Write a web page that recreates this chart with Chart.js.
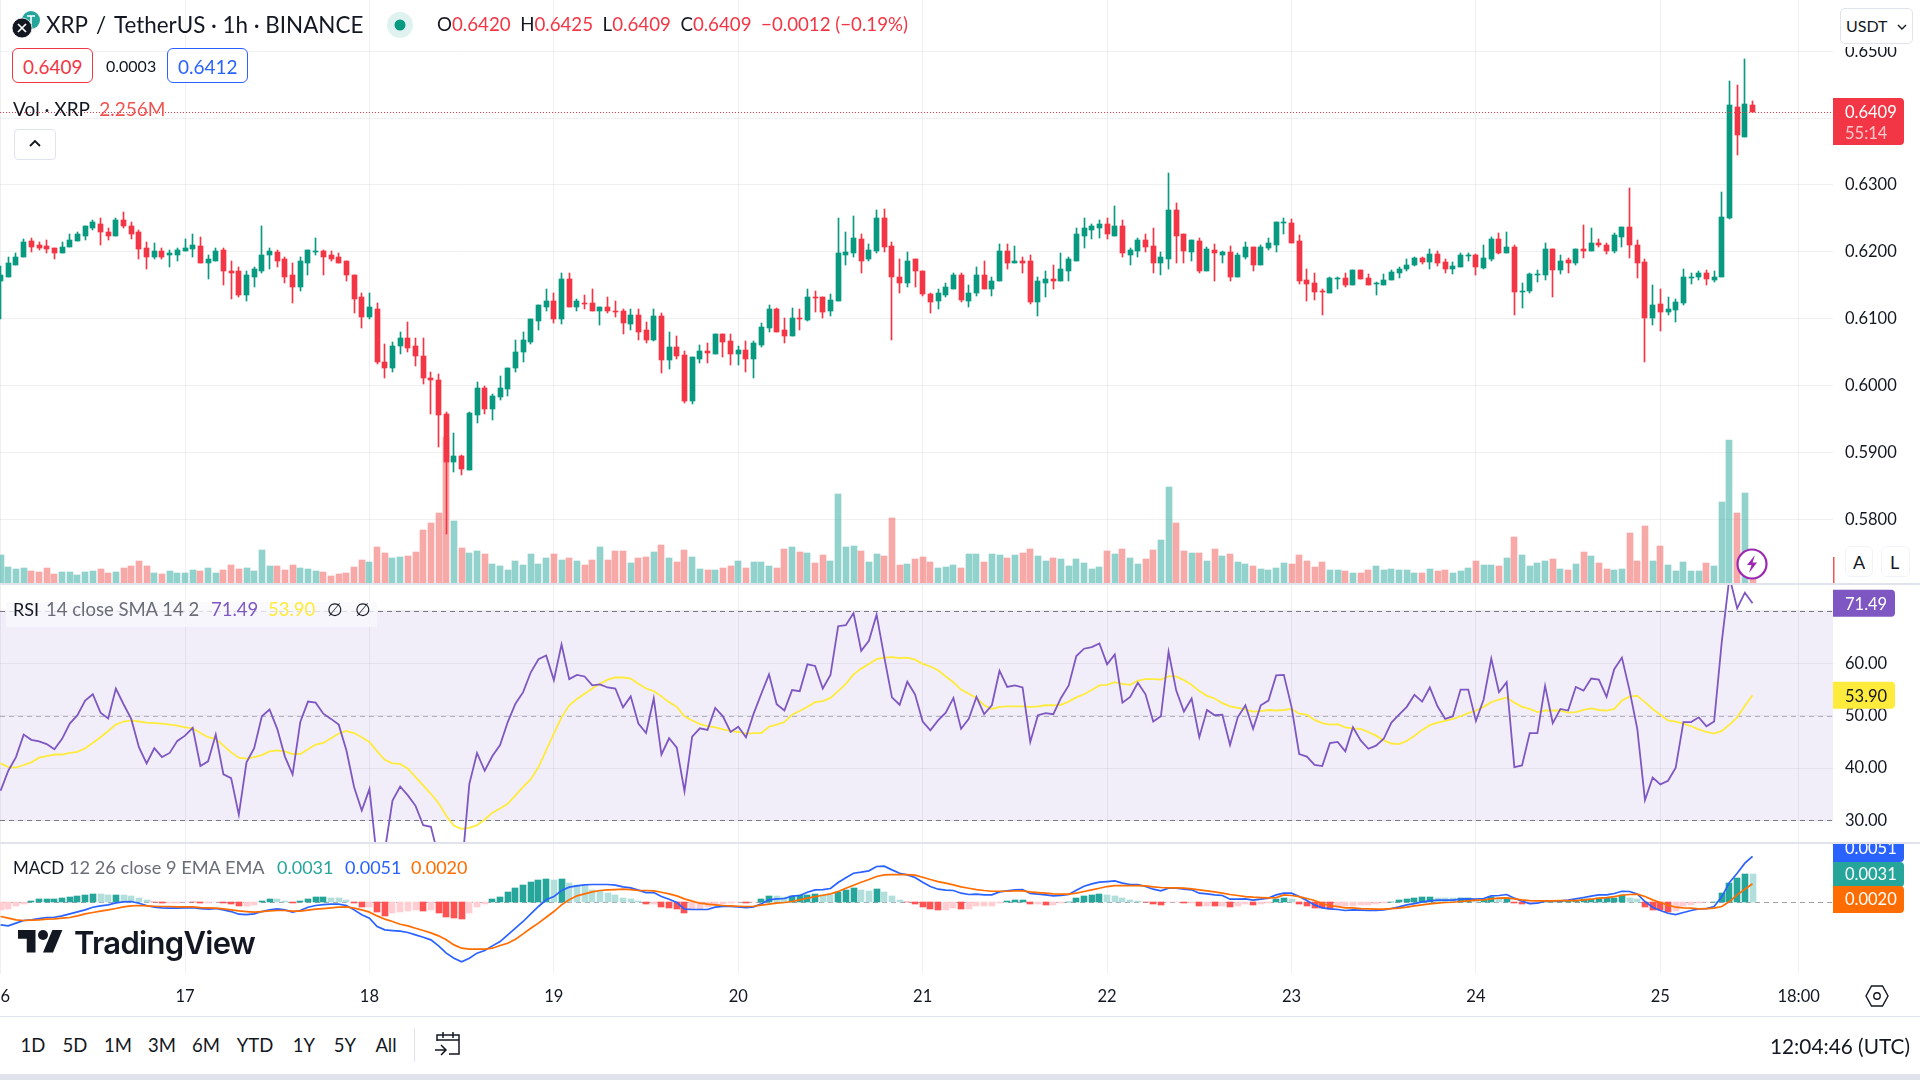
<!DOCTYPE html>
<html lang="en">
<head>
<meta charset="utf-8">
<title>XRP / TetherUS 1h</title>
<script src="https://cdn.jsdelivr.net/npm/chart.js@4"></script>
<style>
  html, body { margin: 0; padding: 0; background: #fff; }
  #stage { position: relative; width: 1920px; height: 1080px; overflow: hidden; background: #fff;
           font-family: Lato, "Open Sans", sans-serif; color: #131722; }
  #stage canvas { position: absolute; left: 0; display: block; }
  .t { position: absolute; white-space: pre; transform: translateY(-50%); line-height: 1; }
  .box { position: absolute; box-sizing: border-box; background: #fff; }
  svg.ico { position: absolute; overflow: visible; }
</style>
</head>
<body>
<div id="stage">
  <canvas id="mainPane" width="1920" height="583" style="top:0"></canvas>
  <canvas id="rsiPane" width="1920" height="257" style="top:585px"></canvas>
  <canvas id="macdPane" width="1920" height="174" style="top:842px"></canvas>
</div>
<script>
// Hourly candles in units of 0.0001 USDT, starting at the 16th 00:00 UTC.
const opens = [6156,6163,6181,6192,6217,6211,6209,6206,6199,6208,
6217,6224,6236,6242,6230,6224,6248,6239,6229,6206,
6192,6202,6196,6196,6202,6205,6209,6184,6187,6203,
6172,6171,6135,6163,6172,6196,6200,6189,6165,6147,
6184,6200,6202,6195,6192,6186,6165,6133,6102,6115,
6035,6026,6059,6072,6059,6045,6012,6009,5957,5886,
5895,5874,5956,5996,5965,5983,5995,6026,6050,6065,
6096,6118,6126,6099,6159,6117,6124,6123,6111,6117,
6112,6112,6092,6105,
6083,6068,6104,6038,6058,6046,5977,6040,6052,6047,
6077,6067,6047,6053,6040,6061,6086,6114,6083,6074,
6101,6098,6132,6132,6111,6126,6196,6198,6220,6189,
6202,6250,6209,6163,6153,6189,6172,6137,6126,6135,
6144,6165,6126,6138,6165,6145,6156,6202,6183,6186,
6186,6125,6154,6159,6156,6172,6187,6224,6233,6236,
6241,6224,6238,6196,6202,6218,6209,6184,6190,6262,
6226,6200,6217,6172,6203,6196,6200,6163,6193,6208,
6180,6206,6211,6243,6243,6216,6158,6153,6141,6139,
6160,6161,6150,6173,6161,6152,6151,6158,6168,6174,
6180,6191,6185,6197,6185,6175,6177,6194,6195,6176,
6189,6220,6198,6208,6141,6141,6165,6165,6205,6173,
6188,6183,6205,6201,6214,6211,6201,6223,6237,6210,
6185,6101,6122,6110,6113,6123,6162,6162,6168,6158,
6162,6250,6417,6372,6420];
const highs = [6179,6192,6198,6220,6221,6215,6218,6206,6215,6227,
6229,6238,6248,6250,6235,6250,6259,6244,6232,6215,
6214,6206,6203,6206,6220,6226,6223,6195,6206,6206,
6187,6178,6171,6177,6238,6206,6203,6192,6183,6192,
6203,6221,6203,6202,6198,6187,6166,6139,6138,6123,
6062,6065,6081,6095,6072,6071,6021,6017,5960,5929,
5897,5960,6006,5999,5987,6015,6027,6069,6080,6100,
6120,6145,6139,6168,6168,6129,6135,6145,6118,6132,
6126,6114,6114,6114,
6095,6114,6108,6080,6075,6052,6043,6061,6064,6078,
6078,6077,6059,6067,6067,6093,6120,6116,6101,6116,
6114,6145,6142,6132,6137,6251,6229,6253,6226,6212,
6262,6264,6215,6189,6200,6189,6172,6139,6145,6154,
6168,6169,6150,6178,6187,6163,6212,6212,6209,6192,
6195,6162,6171,6181,6198,6192,6236,6250,6242,6247,
6251,6269,6247,6206,6221,6227,6236,6200,6318,6273,
6226,6218,6221,6208,6212,6202,6209,6199,6215,6208,
6211,6221,6244,6250,6249,6225,6174,6169,6144,6163,
6163,6169,6173,6173,6167,6155,6167,6173,6178,6190,
6193,6193,6205,6202,6190,6185,6199,6199,6197,6211,
6222,6228,6229,6210,6153,6169,6173,6213,6205,6195,
6191,6205,6240,6235,6220,6214,6228,6237,6295,6218,
6189,6150,6145,6133,6129,6175,6169,6171,6173,6171,
6290,6455,6450,6489,6425];
const lows = [6100,6162,6181,6192,6200,6203,6198,6190,6199,6208,
6217,6218,6233,6211,6218,6224,6235,6220,6189,6175,
6189,6189,6177,6187,6202,6193,6184,6160,6187,6151,
6130,6133,6127,6148,6168,6175,6178,6153,6124,6142,
6165,6195,6165,6186,6183,6156,6109,6086,6100,6033,
6011,6021,6048,6051,6030,6002,5957,5908,5778,5871,
5866,5874,5944,5957,5948,5978,5984,6020,6035,6063,
6084,6112,6093,6092,6117,6111,6115,6112,6090,6108,
6102,6077,6083,6069,
6064,6067,6019,6025,6040,5974,5973,6034,6034,6047,
6043,6031,6031,6020,6012,6058,6080,6081,6064,6074,
6083,6096,6110,6101,6104,6126,6180,6192,6169,6186,
6198,6200,6068,6139,6147,6148,6134,6108,6114,6132,
6144,6125,6117,6134,6145,6134,6156,6175,6183,6168,
6122,6104,6132,6145,6156,6157,6187,6206,6220,6221,
6220,6224,6193,6181,6192,6200,6169,6165,6174,6183,
6184,6186,6168,6171,6156,6184,6156,6163,6189,6172,
6180,6203,6200,6226,6214,6152,6127,6128,6106,6139,
6145,6148,6150,6159,6150,6135,6150,6158,6161,6172,
6179,6182,6174,6179,6168,6167,6177,6186,6165,6174,
6186,6197,6198,6106,6116,6139,6155,6158,6133,6167,
6169,6180,6191,6201,6208,6197,6198,6208,6191,6161,
6036,6090,6082,6106,6095,6121,6152,6158,6150,6155,
6162,6249,6345,6372,6409];
const closes = [6165,6183,6193,6215,6208,6206,6205,6199,6208,6218,
6226,6238,6244,6229,6224,6248,6238,6227,6205,6192,
6202,6193,6198,6203,6206,6211,6184,6189,6202,6172,
6169,6135,6165,6174,6196,6202,6187,6163,6147,6186,
6203,6202,6193,6189,6184,6165,6130,6102,6117,6035,
6026,6060,6072,6057,6044,6011,6008,5956,5886,5895,
5875,5959,5996,5965,5984,5996,6027,6051,6068,6099,
6120,6126,6099,6160,6117,6126,6123,6112,6117,6111,
6111,6093,6106,6081,
6068,6104,6038,6058,6044,5977,6043,6052,6049,6078,
6065,6047,6053,6040,6064,6087,6114,6081,6074,6101,
6099,6132,6131,6110,6128,6198,6200,6221,6187,6203,
6250,6208,6162,6153,6187,6171,6137,6125,6138,6147,
6165,6128,6139,6166,6145,6157,6202,6184,6187,6184,
6125,6156,6159,6157,6174,6189,6226,6235,6238,6242,
6226,6238,6198,6203,6218,6208,6184,6192,6262,6224,
6202,6218,6172,6205,6198,6200,6163,6195,6208,6181,
6208,6214,6244,6244,6214,6156,6152,6140,6140,6161,
6161,6150,6173,6159,6150,6154,6158,6170,6175,6181,
6191,6185,6197,6183,6175,6179,6195,6195,6177,6191,
6220,6199,6208,6140,6142,6167,6167,6205,6173,6186,
6184,6205,6201,6214,6211,6201,6225,6237,6210,6183,
6101,6121,6110,6115,6125,6163,6163,6168,6159,6163,
6252,6419,6374,6421,6409];

// Traded volume per candle, in millions of XRP.
const volumes = [11.9,6.9,6.0,6.4,5.2,4.8,6.4,3.9,4.8,4.8,
3.5,4.8,5.2,6.0,4.3,4.8,6.4,7.3,9.4,7.3,
4.3,3.9,5.2,4.3,4.3,5.6,5.2,6.4,4.3,5.6,
7.7,6.0,6.4,5.2,14.0,7.3,7.3,5.6,7.7,6.4,
6.0,5.2,4.8,3.1,3.9,4.3,6.9,9.8,9.0,15.3,
12.7,10.6,11.1,11.5,13.2,22.4,25.3,29.5,61.3,26.2,
14.8,12.7,13.6,12.3,8.1,7.3,5.6,9.4,7.7,12.3,
8.1,10.6,12.3,9.8,10.6,9.4,7.7,9.8,15.3,9.8,
13.6,13.6,8.5,10.6,
11.1,13.2,16.1,10.6,9.0,14.0,11.1,6.0,5.6,5.6,
6.4,7.3,9.4,6.4,9.0,9.0,7.3,6.4,14.4,15.3,
13.2,12.7,8.5,11.9,9.4,37.5,15.3,15.7,13.6,9.0,
12.3,11.5,27.4,7.7,8.1,10.2,11.1,9.0,6.4,6.9,
7.7,6.4,12.3,12.3,9.0,12.3,11.9,10.6,11.9,12.7,
14.4,11.5,9.4,10.6,10.2,7.3,10.2,8.5,6.0,6.9,
13.6,12.3,14.4,10.6,8.1,10.2,14.0,18.2,40.5,25.3,
13.6,12.7,12.7,9.4,14.4,11.5,12.3,9.0,8.1,7.3,
6.0,5.6,6.4,8.6,8.1,11.9,9.3,6.9,9.0,5.6,
5.6,5.2,4.3,4.0,5.6,7.3,5.6,6.0,5.6,5.6,
4.0,4.0,6.0,5.2,5.6,4.0,5.2,6.4,9.3,7.6,
7.6,7.3,10.7,19.4,11.9,7.3,8.6,9.3,10.2,6.0,
5.6,8.1,13.1,11.5,8.6,6.0,5.6,6.0,21.1,9.3,
24.1,9.3,15.7,7.6,5.2,9.0,5.2,5.2,8.6,7.3,
34.2,60.2,29.2,37.6,2.256];

const rsiValues = [35.7,39.5,42.1,46.4,45.4,45.1,44.6,43.6,45.6,48.5,
50.1,52.9,54.1,50.6,49.5,55.2,52.2,49.4,44.0,40.9,
43.8,42.1,42.9,45.2,46.2,47.7,40.4,41.3,46.4,38.8,
38.1,31.1,41.1,43.8,49.9,51.2,47.5,42.2,38.8,48.8,
52.7,52.5,50.4,49.4,48.3,43.4,36.4,31.9,36.0,22.3,
24.2,33.8,36.5,34.8,32.8,29.1,28.8,23.0,16.0,18.0,
20.4,37.0,42.9,39.5,42.3,44.4,48.8,52.3,54.5,58.3,
60.8,61.5,56.8,63.6,57.0,57.8,57.5,55.8,56.0,55.4,
55.2,51.6,53.7,48.5,
46.7,53.3,42.6,45.7,43.9,35.6,46.0,47.6,47.3,51.5,
49.9,46.9,47.9,45.9,50.4,54.2,57.9,52.2,51.0,54.9,
54.7,59.8,59.5,55.2,57.8,67.1,67.3,69.6,62.4,64.3,
69.3,61.2,53.5,52.1,56.5,54.1,48.9,47.2,49.1,50.6,
53.4,47.5,49.4,53.6,50.3,52.0,58.6,55.5,55.8,55.4,
45.0,50.1,50.5,50.3,53.4,55.8,61.4,62.8,63.1,63.8,
59.8,61.7,52.5,53.6,56.3,54.1,48.9,49.9,62.2,54.8,
50.8,53.3,45.9,51.1,50.1,50.2,44.4,49.7,52.0,47.5,
52.0,52.9,57.7,57.8,51.7,42.7,42.2,40.6,40.4,44.8,
45.0,43.2,47.8,45.3,43.7,44.3,45.6,48.7,50.2,51.7,
54.0,52.7,55.4,51.8,49.4,49.9,55.0,55.0,49.0,53.1,
60.9,54.5,56.4,40.2,40.5,46.7,46.7,55.7,48.6,51.3,
51.0,55.5,54.8,57.1,56.9,53.6,58.9,61.1,54.8,47.5,
33.9,38.2,36.9,37.6,40.1,48.8,48.8,49.7,48.0,48.9,
64.2,76.5,70.5,73.5,71.49];

const rsiAverage = [40.9,40.2,40.1,40.6,41.1,42.0,42.3,42.6,42.6,42.9,
43.1,43.8,44.8,45.9,47.1,48.3,48.9,49.1,48.9,48.7,
48.6,48.5,48.3,48.1,47.8,47.6,46.7,45.9,45.6,44.3,
43.0,42.0,41.8,42.1,42.5,43.2,43.4,43.2,42.7,42.7,
43.6,44.5,44.8,45.7,46.6,47.1,46.7,45.9,45.0,43.2,
41.6,40.9,40.8,39.9,38.3,36.7,35.1,33.3,30.9,29.0,
28.4,28.6,29.1,30.2,31.5,32.3,33.2,34.8,36.4,37.9,
40.2,43.4,46.6,49.7,52.0,53.2,54.2,55.2,56.1,56.9,
57.3,57.3,57.1,56.1,
55.2,54.7,53.7,52.6,51.7,49.9,49.1,48.4,48.0,47.8,
47.4,47.1,46.9,46.6,46.7,46.7,47.9,48.3,48.8,50.2,
50.9,51.7,52.6,52.8,53.4,54.7,56.1,57.9,59.0,59.9,
60.8,61.1,61.2,61.0,61.1,60.7,59.9,59.4,58.7,57.5,
56.4,55.0,54.2,53.4,52.0,51.3,51.7,51.8,51.8,51.8,
51.7,51.8,52.0,52.0,52.1,52.7,53.5,54.1,54.9,55.8,
55.9,56.4,56.1,55.9,56.7,57.0,57.0,56.9,57.5,57.5,
56.8,55.9,54.7,53.8,53.3,52.4,51.8,51.5,51.2,50.8,
50.9,51.1,51.0,
51.1,51.3,50.4,50.2,49.2,48.6,48.3,48.4,47.8,47.6,
47.5,46.9,46.2,45.3,44.7,44.6,45.2,46.2,47.3,48.2,
48.7,49.0,49.4,49.9,50.5,51.0,51.7,52.6,53.1,53.5,
52.5,51.7,51.3,50.7,51.0,51.0,51.0,50.6,50.7,51.1,
51.4,51.1,51.0,51.3,52.9,53.7,53.8,52.6,51.3,50.2,
49.1,48.9,48.5,48.0,47.4,46.9,46.6,47.1,48.3,49.7,
51.9,53.90];

// MACD series in units of 0.00001.
const macdLine = [-263,-274,-244,-214,-207,-192,-180,-177,-162,-139,
-116,-94,-64,-49,-38,-15,-4,0,-19,-45,
-64,-71,-75,-75,-71,-68,-79,-86,-79,-94,
-113,-143,-147,-139,-113,-94,-83,-94,-120,-101,
-64,-45,-34,-30,-30,-45,-94,-150,-188,-282,
-319,-327,-334,-349,-376,-402,-432,-500,-582,-639,
-680,-639,-582,-552,-500,-451,-376,-301,-225,-139,
-56,19,56,124,162,177,188,192,192,192,
184,165,154,128,
101,101,56,26,-11,-86,-90,-90,-90,-64,
-56,-56,-60,-68,-60,-26,19,30,34,60,
68,105,132,135,147,214,267,319,331,346,
395,398,357,319,301,271,218,169,139,128,
124,94,79,83,75,75,109,120,132,135,
90,83,75,64,68,79,128,173,199,218,
225,233,207,192,192,169,139,120,150,150,
139,132,94,86,75,68,26,26,30,15,
26,38,75,
94,94,56,11,-38,-71,-83,-90,-101,-94,
-98,-101,-101,-94,-79,-60,-38,-23,-4,8,
15,15,15,26,30,26,34,64,68,79,
38,4,-23,-19,4,8,8,15,30,45,
60,75,75,90,116,113,86,0,-64,-101,
-132,-147,-124,-101,-83,-79,-56,56,214,319,
432,510];
const signalLine = [-169,-188,-207,-214,-210,-207,-199,-195,-188,-180,
-162,-139,-124,-109,-94,-79,-60,-49,-45,-49,
-53,-56,-56,-60,-60,-60,-68,-71,-75,-83,
-94,-105,-113,-120,-113,-105,-101,-101,-109,-109,
-98,-86,-79,-71,-64,-60,-75,-94,-120,-162,
-199,-225,-256,-274,-301,-327,-353,-387,-432,-489,
-526,-537,-537,-537,-526,-496,-470,-425,-365,-301,
-244,-177,-113,-38,19,64,86,109,124,132,
135,139,135,124,
124,120,105,86,64,30,4,-19,-30,-38,
-45,-49,-53,-56,-53,-41,-30,-19,-11,0,
19,38,56,71,86,113,150,184,218,248,
282,301,304,304,304,297,274,248,225,207,
188,165,150,135,124,116,116,116,120,120,
109,101,94,86,83,83,94,113,132,150,
169,180,180,180,180,177,165,158,154,154,
150,143,132,120,109,94,79,68,56,49,
45,41,45,
75,68,56,34,11,-23,-45,-56,-71,-71,
-79,-83,-86,-86,-79,-75,-64,-49,-38,-26,
-19,-11,-8,0,8,15,19,30,38,41,
30,19,11,8,8,8,11,11,11,19,
26,38,45,56,71,79,83,56,19,-11,
-41,-64,-71,-75,-83,-79,-75,-56,0,75,
139,200];
const macdHistogram = [-94,-83,-49,-26,8,30,30,30,45,56,
64,79,90,83,75,79,71,64,41,15,
-8,-19,-19,-11,-4,-8,-19,-19,-8,-19,
-26,-49,-45,-38,4,34,30,11,-11,11,
34,49,53,45,38,15,-19,-64,-64,-113,
-158,-132,-120,-105,-98,-105,-98,-124,-169,-188,
-195,-132,-64,-30,30,56,109,154,184,222,
244,252,244,252,214,188,177,132,120,94,
75,38,26,4,
-26,-26,-64,-75,-86,-128,-83,-83,-64,-38,
-26,-19,-4,-19,-8,30,64,60,49,64,
71,79,86,75,74,105,132,154,132,120,
143,109,64,19,-4,-26,-64,-83,-94,-90,
-71,-83,-80,-56,-56,-45,-15,8,19,19,
-30,-23,-34,-34,-19,0,41,60,75,86,
75,64,38,19,4,-4,-26,-38,-4,-4,
-19,-15,-49,-45,-49,-49,-60,-56,-26,-38,
-26,-11,30,
41,30,-30,-53,-71,-75,-79,-75,-56,-45,
-43,-38,-30,-11,0,19,30,38,53,53,
41,38,37,41,41,19,23,56,45,45,
-15,-30,-30,-11,0,0,4,4,11,23,
30,38,38,45,68,45,26,-60,-94,-101,
-113,-105,-56,-41,-19,-4,0,94,214,267,
312,310];

// Axis ticks.
const priceTicks = [0.58,0.59,0.60,0.61,0.62,0.63,0.64,0.65];
const rsiTicks = [30,40,50,60,70];
const timeTicks = [0,24,48,72,96,120,144,168,192,216,234];
const timeLabels = ['16','17','18','19','20','21','22','23','24','25','18:00'];

const GREEN = '#089981', RED = '#f23645';
const GRID = 'rgba(42,46,57,0.07)';
const FONT = 'Lato, "Open Sans", sans-serif';
const LAST = opens.length - 1;
const indices = opens.map((_, i) => i);

// Every candle is 7.684px wide over the 1833px plot, with index 0 just right of the edge.
const xMin = -0.08, xMax = 238.47;

const series = (values, scale) => indices.map(i => ({ x: i, y: values[i] / scale }));

// Snaps bar geometry to whole pixels so wicks and bodies stay crisp.
const crispBars = {
  id: 'crispBars',
  afterDatasetsUpdate(chart) {
    chart.data.datasets.forEach((ds, n) => {
      if (ds.type === 'line') return;
      const odd = ds.barThickness % 2 === 1;
      chart.getDatasetMeta(n).data.forEach(el => {
        el.x = odd ? Math.floor(el.x) + 0.5 : Math.round(el.x);
        const top = Math.round(el.y), base = Math.round(el.base);
        el.y = top;
        el.base = (top === base && ds.keepVisible) ? base + 1 : base;
      });
    });
  }
};

function timeAxis(showLabels) {
  return {
    type: 'linear', min: xMin, max: xMax, offset: false,
    border: { display: false },
    grid: { color: GRID, drawTicks: false, offset: false },
    afterBuildTicks: s => { s.ticks = timeTicks.map(v => ({ value: v })); },
    afterFit: s => {
      s.height = showLabels ? 42 : 0;
      s.paddingLeft = s.paddingRight = 0;
    },
    ticks: {
      display: showLabels, autoSkip: false, maxRotation: 0, padding: 13,
      color: '#131722', font: { family: FONT, size: 16.5 },
      callback: v => timeLabels[timeTicks.indexOf(v)]
    }
  };
}

function valueAxis(lo, hi, ticks, digits, showGrid) {
  return {
    position: 'right', min: lo, max: hi,
    border: { display: false },
    grid: { color: showGrid ? GRID : 'transparent', drawTicks: false },
    afterBuildTicks: s => { s.ticks = ticks.map(v => ({ value: v })); },
    afterFit: s => {
      s.width = 87;
      s.paddingTop = s.paddingBottom = 0;
    },
    ticks: {
      padding: 12, autoSkip: false, color: '#131722',
      font: { family: FONT, size: 16.5 },
      callback: v => v.toFixed(digits)
    }
  };
}

const base = {
  responsive: false, animation: false, devicePixelRatio: 1,
  layout: { padding: 0 },
  events: [],
  plugins: { legend: { display: false }, tooltip: { enabled: false } }
};

function axisTag(ctx, x, y, w, h, fill, lines) {
  ctx.save();
  ctx.fillStyle = fill;
  ctx.beginPath();
  ctx.roundRect(x, y, w, h, [0, 4, 4, 0]);
  ctx.fill();
  ctx.textBaseline = 'middle';
  ctx.textAlign = 'left';
  lines.forEach(l => {
    ctx.fillStyle = l.color;
    ctx.font = '16.5px ' + FONT;
    ctx.fillText(l.text, 1845, l.y);
  });
  ctx.restore();
}

// Price pane: candles over volume, last-price line and tag.
const priceMarks = {
  id: 'priceMarks',
  afterDatasetsDraw(chart) {
    const { ctx, chartArea: a, scales } = chart;
    const y = Math.round(scales.y.getPixelForValue(closes[LAST] / 1e4)) + 0.5;
    ctx.save();
    ctx.strokeStyle = RED;
    ctx.setLineDash([1, 2]);
    ctx.beginPath();
    ctx.moveTo(a.left, y);
    ctx.lineTo(a.right, y);
    ctx.stroke();
    ctx.restore();
  },
  afterDraw(chart) {
    const { ctx, scales } = chart;
    const y = scales.y.getPixelForValue(closes[LAST] / 1e4);
    axisTag(ctx, 1833, y - 14, 71, 47, RED, [
      { text: (closes[LAST] / 1e4).toFixed(4), color: '#fff', y: y + 1 },
      { text: '55:14', color: 'rgba(255,255,255,0.72)', y: y + 22 }
    ]);
    ctx.fillStyle = '#ef5350';
    ctx.fillRect(1833, 557, 1.5, 26);
  }
};

new Chart(document.getElementById('mainPane'), {
  type: 'bar',
  plugins: [crispBars, priceMarks],
  data: {
    datasets: [
      { label: 'Volume', yAxisID: 'vol', order: 3, grouped: false, barThickness: 6,
        data: series(volumes, 1),
        backgroundColor: indices.map(i => closes[i] >= opens[i] ? 'rgba(38,166,154,0.5)' : 'rgba(239,83,80,0.5)') },
      { label: 'Wick', order: 2, grouped: false, barThickness: 1,
        data: indices.map(i => ({ x: i, y: [lows[i] / 1e4, highs[i] / 1e4] })),
        backgroundColor: indices.map(i => closes[i] >= opens[i] ? GREEN : RED) },
      { label: 'Body', order: 1, grouped: false, barThickness: 5, keepVisible: true,
        data: indices.map(i => ({ x: i, y: [opens[i] / 1e4, closes[i] / 1e4] })),
        backgroundColor: indices.map(i => closes[i] >= opens[i] ? GREEN : RED) }
    ]
  },
  options: {
    ...base,
    scales: {
      x: timeAxis(false),
      y: valueAxis(0.57051, 0.65765, priceTicks, 4, true),
      vol: { display: false, min: 0, max: 244.86 }
    }
  }
});

// RSI pane: 30–70 band with its dashed levels, value tags.
const rsiMarks = {
  id: 'rsiMarks',
  beforeDatasetsDraw(chart) {
    const { ctx, chartArea: a, scales: { y } } = chart;
    const top = y.getPixelForValue(70), bottom = y.getPixelForValue(30);
    ctx.save();
    ctx.fillStyle = 'rgba(126,87,194,0.1)';
    ctx.fillRect(a.left, top, a.right - a.left, bottom - top);
    ctx.setLineDash([5, 4]);
    [[70, 'rgba(120,123,134,1)'], [50, 'rgba(120,123,134,0.55)'], [30, 'rgba(120,123,134,1)']].forEach(([v, c]) => {
      const py = Math.round(y.getPixelForValue(v)) + 0.5;
      ctx.strokeStyle = c;
      ctx.beginPath();
      ctx.moveTo(a.left, py);
      ctx.lineTo(a.right, py);
      ctx.stroke();
    });
    ctx.restore();
  },
  afterDraw(chart) {
    const { ctx, scales: { y } } = chart;
    const r = rsiValues[LAST], m = rsiAverage[LAST];
    const ry = y.getPixelForValue(r), my = y.getPixelForValue(m);
    axisTag(ctx, 1833, ry - 13.5, 62, 27, '#7e57c2', [{ text: r.toFixed(2), color: '#fff', y: ry + 1 }]);
    axisTag(ctx, 1833, my - 13.5, 62, 27, '#ffeb3b', [{ text: m.toFixed(2), color: '#131722', y: my + 1 }]);
  }
};

new Chart(document.getElementById('rsiPane'), {
  type: 'line',
  plugins: [rsiMarks],
  data: {
    datasets: [
      { label: 'RSI average', order: 2, data: series(rsiAverage, 1), borderColor: '#ffeb3b', borderWidth: 1.8, pointRadius: 0, tension: 0 },
      { label: 'RSI', order: 1, data: series(rsiValues, 1), borderColor: '#7e57c2', borderWidth: 1.8, pointRadius: 0, tension: 0 }
    ]
  },
  options: {
    ...base,
    scales: { x: timeAxis(false), y: valueAxis(25.895, 74.964, rsiTicks, 2, true) }
  }
});

// MACD pane: histogram shaded by momentum, zero line and stacked value tags.
const histColor = i => {
  const h = macdHistogram[i], prev = i ? macdHistogram[i - 1] : h;
  return h >= 0 ? (h >= prev ? '#26a69a' : '#b2dfdb') : (h < prev ? '#ff5252' : '#ffcdd2');
};
const macdMarks = {
  id: 'macdMarks',
  beforeDatasetsDraw(chart) {
    const { ctx, chartArea: a, scales: { y } } = chart;
    const py = Math.round(y.getPixelForValue(0)) + 0.5;
    ctx.save();
    ctx.strokeStyle = 'rgba(120,123,134,0.7)';
    ctx.setLineDash([5, 4]);
    ctx.beginPath();
    ctx.moveTo(a.left, py);
    ctx.lineTo(a.right, py);
    ctx.stroke();
    ctx.restore();
  },
  afterDraw(chart) {
    const { ctx } = chart;
    axisTag(ctx, 1833, -6, 71, 26, '#2962ff', [{ text: (macdLine[LAST] / 1e5).toFixed(4), color: '#fff', y: 7 }]);
    axisTag(ctx, 1833, 20, 71, 25, '#26a69a', [{ text: (macdHistogram[LAST] / 1e5).toFixed(4), color: '#fff', y: 33 }]);
    axisTag(ctx, 1833, 44, 71, 27, '#ff6d00', [{ text: (signalLine[LAST] / 1e5).toFixed(4), color: '#fff', y: 58 }]);
  }
};

new Chart(document.getElementById('macdPane'), {
  type: 'bar',
  plugins: [crispBars, macdMarks],
  data: {
    datasets: [
      { label: 'Signal', type: 'line', order: 1, data: series(signalLine, 1e5), borderColor: '#ff6d00', borderWidth: 1.7, pointRadius: 0, tension: 0 },
      { label: 'MACD', type: 'line', order: 2, data: series(macdLine, 1e5), borderColor: '#2962ff', borderWidth: 1.7, pointRadius: 0, tension: 0 },
      { label: 'Histogram', order: 3, grouped: false, barThickness: 6, data: series(macdHistogram, 1e5),
        backgroundColor: indices.map(histColor) }
    ]
  },
  options: {
    ...base,
    scales: { x: timeAxis(true), y: valueAxis(-0.00817, 0.00671, [], 4, false) }
  }
});

// Surrounding chart furniture: legends, buttons and toolbars.
const stage = document.getElementById('stage');
function text(x, y, html, size, color, extra) {
  const el = document.createElement('div');
  el.className = 't';
  el.innerHTML = html;
  el.style.cssText = `left:${x}px;top:${y}px;font-size:${size}px;color:${color || '#131722'};${extra || ''}`;
  stage.appendChild(el);
  return el;
}
function box(x, y, w, h, style) {
  const el = document.createElement('div');
  el.className = 'box';
  el.style.cssText = `left:${x}px;top:${y}px;width:${w}px;height:${h}px;${style || ''}`;
  stage.appendChild(el);
  return el;
}
function icon(x, y, w, h, markup, viewBox) {
  const tmp = document.createElement('div');
  tmp.innerHTML = `<svg class="ico" style="left:${x}px;top:${y}px" width="${w}" height="${h}" viewBox="${viewBox || `0 0 ${w} ${h}`}">${markup}</svg>`;
  stage.appendChild(tmp.firstChild);
}

// Pane separators and footer bands.
box(0, 583, 1920, 2, 'background:#e0e3eb');
box(0, 842, 1920, 2, 'background:#e0e3eb');
box(0, 1016, 1920, 1, 'background:#e0e3eb');
box(0, 1074, 1920, 6, 'background:#e0e3eb');

// Header row.
icon(10, 8, 36, 36, `
  <circle cx="21" cy="12" r="9" fill="#26a69a"/>
  <path d="M17 8h8M21 8v8" stroke="#fff" stroke-width="1.6" fill="none"/>
  <circle cx="12" cy="20" r="10" fill="#131722" stroke="#fff" stroke-width="0.8"/>
  <path d="M8 16l8 8M16 16l-8 8" stroke="#fff" stroke-width="1.7" fill="none"/>`);
text(46, 25, 'XRP', 22.4);
text(96, 25, '/', 22.4);
text(114, 25, 'TetherUS · 1h · BINANCE', 22.4);
icon(386, 11, 28, 28, '<circle cx="14" cy="14" r="13" fill="rgba(8,153,129,0.13)"/><circle cx="14" cy="14" r="5.5" fill="#089981"/>');
const redVal = s => `<span style="color:${RED}">${s}</span>`;
text(437, 24, `O${redVal('0.6420')}  H${redVal('0.6425')}  L${redVal('0.6409')}  C${redVal('0.6409')}  ${redVal('−0.0012 (−0.19%)')}`, 18.7);

box(12, 48, 81, 35, `border:1px solid ${RED};border-radius:6px`);
text(23, 66, '0.6409', 19, RED);
text(106, 66, '0.0003', 16);
box(167, 48, 81, 35, 'border:1px solid #2962ff;border-radius:6px');
text(178, 66, '0.6412', 19, '#2962ff');

text(13, 108, `Vol · XRP  <span style="color:#ef5350">2.256M</span>`, 19);
box(14, 129, 42, 31, 'border:1px solid #e0e3eb;border-radius:4px');
icon(28, 138, 14, 10, '<path d="M2 8l5-5 5 5" stroke="#131722" stroke-width="1.8" fill="none"/>');

// Currency selector, sits over the clipped top tick label.
box(1833, 0, 87, 47, 'background:#fff');
box(1840, 8, 73, 36, 'border:1px solid #e0e3eb;border-radius:5px');
text(1846, 26, 'USDT', 16);
icon(1896, 23, 12, 8, '<path d="M2 2l4 4 4-4" stroke="#131722" stroke-width="1.4" fill="none"/>');

// Auto / log scale buttons.
box(1845, 546, 28, 31, 'border:1px solid #f0f3fa;border-radius:6px');
text(1853, 562, 'A', 18);
box(1881, 546, 29, 31, 'border:1px solid #f0f3fa;border-radius:6px');
text(1890, 562, 'L', 18);

// Live-update badge.
icon(1736, 548, 32, 32, `<circle cx="16" cy="16" r="14.5" fill="#fff" stroke="#9c27b0" stroke-width="2.2"/>
  <path d="M19 7l-8 10h4.5L13 25l8-10.5h-4.5z" fill="#9c27b0"/>`);

// RSI legend.
box(6, 602, 371, 25, 'background:rgba(248,248,252,0.78)');
text(13, 609, 'RSI', 18);
text(46, 609, '14 close SMA 14 2', 18.5, '#6a6d78');
text(211, 609, '71.49', 18.5, '#7e57c2');
text(268, 609, '53.90', 18.5, '#ffeb3b');
text(327, 609, '∅', 18);
text(355, 609, '∅', 18);

// MACD legend.
text(13, 867, 'MACD', 17);
text(69, 867, '12 26 close 9 EMA EMA', 18.2, '#6a6d78');
text(277, 867, '0.0031', 18, '#26a69a');
text(345, 867, '0.0051', 18, '#2962ff');
text(411, 867, '0.0020', 18, '#ff6d00');

// Attribution.
icon(18, 925, 45, 35, '<path d="M14 22H7V11H0V4h14v18zM28 22h-8l7.5-18h8L28 22z" fill="#131722"/><circle cx="20" cy="8" r="4" fill="#131722"/>', '0 0 36 28');
text(74, 942, 'TradingView', 31, '#131722', 'font-family:Inter,sans-serif;font-weight:600;letter-spacing:-0.7px');

// Time-axis settings.
icon(1865, 984, 24, 24, '<path d="M6.5 2h11L23 12l-5.5 10h-11L1 12z" fill="none" stroke="#131722" stroke-width="1.4"/><circle cx="12" cy="12" r="3.2" fill="none" stroke="#131722" stroke-width="1.4"/>');

// Range buttons and clock.
[['1D', 33], ['5D', 75], ['1M', 118], ['3M', 162], ['6M', 206], ['YTD', 255], ['1Y', 304], ['5Y', 345], ['All', 386]]
  .forEach(([label, cx]) => text(cx, 1045, label, 18.5, '#131722', 'transform:translate(-50%,-50%)'));
box(414, 1028, 1, 34, 'background:#e0e3eb');
icon(434, 1029, 28, 28, `<path d="M3 12V6h22v19H15" fill="none" stroke="#131722" stroke-width="1.5"/>
  <path d="M3 11h22M9 3v6M19 3v6M1 21h10M7 16l5 5-5 5" fill="none" stroke="#131722" stroke-width="1.5"/>`);
text(1770, 1046, '12:04:46 (UTC)', 20.8);
</script>
</body>
</html>
